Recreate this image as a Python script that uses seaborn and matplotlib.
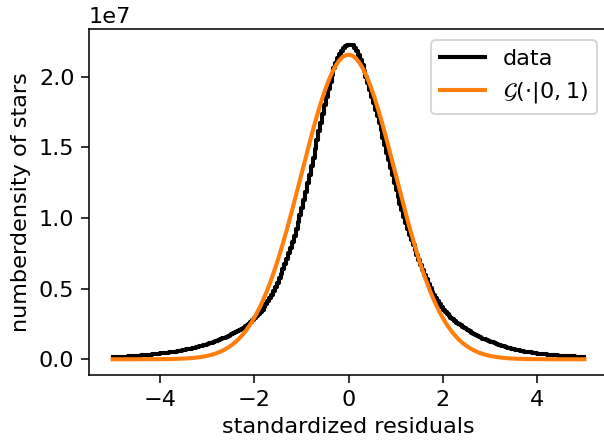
import numpy as np
import pandas as pd
import matplotlib
matplotlib.use("Agg")
import matplotlib.pyplot as plt
import seaborn as sns

# ---- data (units of 1e7), histogram over [-5, 5], bin width 0.04 ----
bin_lo, bin_hi = -5.0, 5.0
scale = 1e7
left_vals = [0.014, 0.015, 0.015, 0.016, 0.017, 0.017, 0.018, 0.019, 0.020, 0.020,
             0.021, 0.022, 0.023, 0.024, 0.025, 0.027, 0.028, 0.029, 0.030, 0.031,
             0.033, 0.034, 0.036, 0.038, 0.039, 0.041, 0.042, 0.044, 0.046, 0.047,
             0.049, 0.051, 0.053, 0.055, 0.057, 0.059, 0.062, 0.064, 0.067, 0.070,
             0.073, 0.076, 0.079, 0.082, 0.085, 0.089, 0.092, 0.096, 0.100, 0.104,
             0.108, 0.113, 0.117, 0.122, 0.127, 0.132, 0.137, 0.142, 0.148, 0.153,
             0.159, 0.165, 0.171, 0.178, 0.185, 0.192, 0.199, 0.207, 0.215, 0.224,
             0.233, 0.243, 0.253, 0.265, 0.277, 0.290, 0.304, 0.318, 0.335, 0.351,
             0.370, 0.390, 0.410, 0.434, 0.458, 0.484, 0.512, 0.540, 0.572, 0.604,
             0.638, 0.674, 0.710, 0.750, 0.790, 0.832, 0.876, 0.920, 0.970, 1.020,
             1.073, 1.129, 1.185, 1.245, 1.305, 1.366, 1.428, 1.490, 1.552, 1.614,
             1.676, 1.739, 1.800, 1.858, 1.913, 1.965, 2.014, 2.060, 2.099, 2.134,
             2.163, 2.186, 2.205, 2.216, 2.224]
right_vals = [2.226, 2.227, 2.222, 2.207, 2.184, 2.153, 2.120, 2.085, 2.044, 2.002,
              1.957, 1.909, 1.860, 1.814, 1.768, 1.720, 1.670, 1.620, 1.568, 1.516,
              1.463, 1.409, 1.355, 1.303, 1.251, 1.200, 1.150, 1.100, 1.054, 1.008,
              0.964, 0.922, 0.880, 0.844, 0.808, 0.772, 0.736, 0.700, 0.666, 0.632,
              0.599, 0.567, 0.535, 0.507, 0.479, 0.454, 0.432, 0.410, 0.390, 0.370,
              0.352, 0.336, 0.320, 0.307, 0.294, 0.282, 0.271, 0.260, 0.250, 0.241,
              0.232, 0.223, 0.214, 0.206, 0.197, 0.189, 0.182, 0.174, 0.167, 0.160,
              0.154, 0.147, 0.141, 0.135, 0.130, 0.124, 0.119, 0.114, 0.109, 0.104,
              0.100, 0.095, 0.091, 0.087, 0.083, 0.079, 0.075, 0.072, 0.069, 0.066,
              0.063, 0.060, 0.057, 0.055, 0.052, 0.050, 0.048, 0.046, 0.044, 0.042,
              0.040, 0.039, 0.037, 0.035, 0.034, 0.032, 0.031, 0.030, 0.029, 0.028,
              0.027, 0.026, 0.025, 0.024, 0.023, 0.023, 0.022, 0.021, 0.020, 0.020,
              0.019, 0.018, 0.017, 0.017, 0.016]
gauss_peak = 2.156  # peak of G(.|0,1) curve, units of 1e7

xlabel = "standardized residuals"
ylabel = "numberdensity of stars"
label_data = "data"
label_gauss = r"$\mathcal{G}(\cdot|0,1)$"

# ---- build ----
plt.rcParams["font.size"] = 11.5
plt.rcParams["xtick.major.size"] = 4
plt.rcParams["ytick.major.size"] = 4

counts = np.array(left_vals + right_vals) * scale
edges = np.linspace(bin_lo, bin_hi, len(counts) + 1)
# step line: each bin value held from its left edge, last value repeated at the right edge
df = pd.DataFrame({"x": edges, "y": np.append(counts, counts[-1])})

xs = np.linspace(bin_lo, bin_hi, 1000)
gdf = pd.DataFrame({"x": xs, "y": gauss_peak * scale * np.exp(-0.5 * xs ** 2)})

dpi = 140
fig = plt.figure(figsize=(604 / dpi, 444 / dpi), dpi=dpi)
ax = fig.add_axes([89 / 604, 1 - 375 / 444, (608 - 89) / 604, (375 - 29) / 444])

sns.lineplot(data=df, x="x", y="y", color="black", linewidth=2.1,
             drawstyle="steps-post", label=label_data, ax=ax, sort=False)
sns.lineplot(data=gdf, x="x", y="y", color="#ff7f0e", linewidth=2.1,
             label=label_gauss, ax=ax)

top = counts.max()
ax.set_xlim(-5.5, 5.5)
ax.set_ylim(-0.05 * top, 1.05 * top)
ax.set_xlabel(xlabel)
ax.set_ylabel(ylabel)
ax.set_xticks([-4, -2, 0, 2, 4])
ax.set_yticks([0, 0.5e7, 1.0e7, 1.5e7, 2.0e7])
ax.legend(loc="upper right")

fig.savefig("out.png", dpi=dpi)
